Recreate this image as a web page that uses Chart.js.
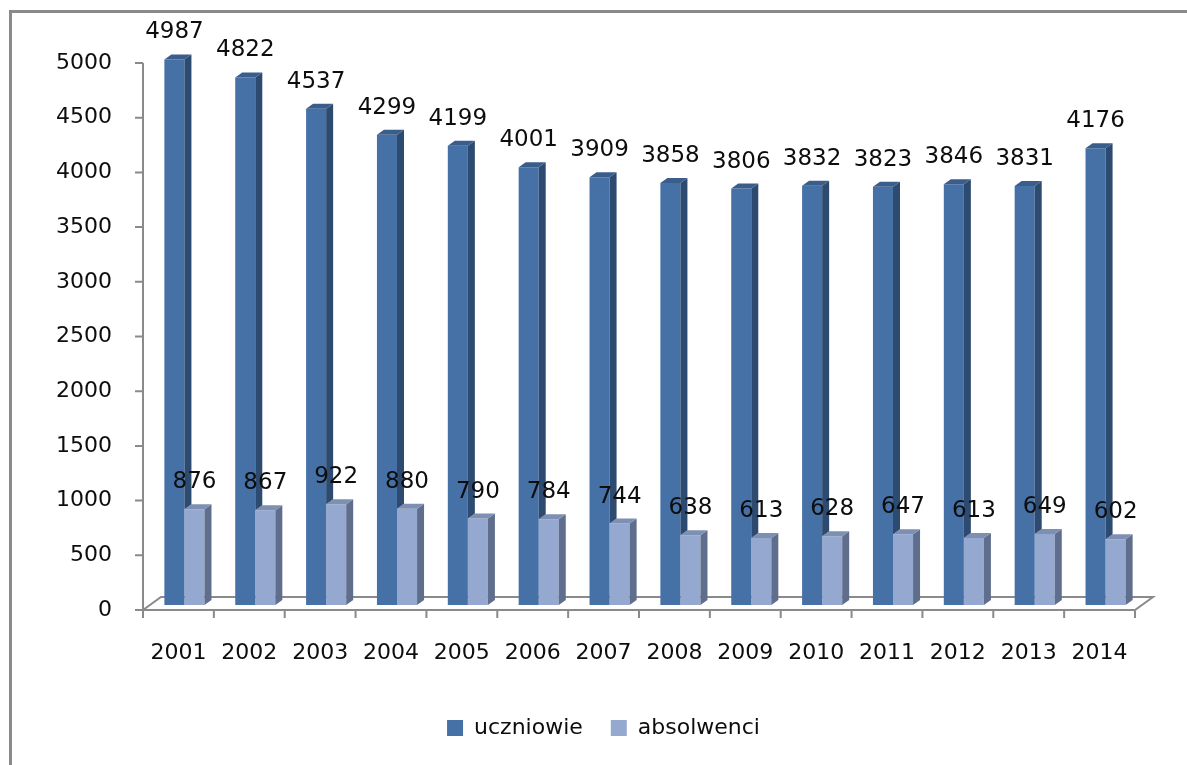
<!DOCTYPE html>
<html>
<head>
<meta charset="utf-8">
<script src="https://cdn.jsdelivr.net/npm/chart.js@4.4.0/dist/chart.umd.min.js"></script>
<style>
  body { margin: 0; background: #fff; overflow: hidden; }
  #frame { position: absolute; left: 9px; top: 10px; width: 1250px; height: 800px; border: 3px solid #8a8a8a; }
  #wrap { position: absolute; left: 0; top: 0; width: 1187px; height: 765px; }
</style>
</head>
<body>
<div id="frame"></div>
<div id="wrap"><canvas id="chart" width="1187" height="765"></canvas></div>
<script>
// data
const years = ["2001", "2002", "2003", "2004", "2005", "2006", "2007", "2008", "2009", "2010", "2011", "2012", "2013", "2014"];
const uczniowie = [4987, 4822, 4537, 4299, 4199, 4001, 3909, 3858, 3806, 3832, 3823, 3846, 3831, 4176];
const absolwenci = [876, 867, 922, 880, 790, 784, 744, 638, 613, 628, 647, 613, 649, 602];

const FONT = "DejaVu Sans";
const DX = 7, DY = 5;          // depth of each bar
const AXIS = "#8a8a8a";
const TEXT = "#0d0d0d";

const shade = [
  { side: "#2d4a70", top: "#3b5d8c" },
  { side: "#5f6e8c", top: "#7d8fb2" }
];

// 3d look: side + top faces, floor, axes and value labels
const bars3d = {
  id: "bars3d",
  afterDatasetDraw(chart, args) {
    const ctx = chart.ctx;
    const s = shade[args.index];
    // uczniowie is drawn last, so its side must stop at the absolwenci top
    const other = args.index === 0 ? chart.getDatasetMeta(1).data : null;
    ctx.save();
    args.meta.data.forEach((bar, j) => {
      const p = bar.getProps(["x", "y", "base", "width"], true);
      const l = p.x - p.width / 2, r = p.x + p.width / 2;
      const low = other ? Math.min(p.base, other[j].y) : p.base;
      ctx.fillStyle = s.side;
      ctx.beginPath();
      ctx.moveTo(r, p.y);
      ctx.lineTo(r + DX, p.y - DY);
      ctx.lineTo(r + DX, low - DY);
      ctx.lineTo(r, low);
      ctx.closePath();
      ctx.fill();
      ctx.fillStyle = s.top;
      ctx.beginPath();
      ctx.moveTo(l, p.y);
      ctx.lineTo(l + DX, p.y - DY);
      ctx.lineTo(r + DX, p.y - DY);
      ctx.lineTo(r, p.y);
      ctx.closePath();
      ctx.fill();
    });
    ctx.restore();
  },
  beforeDatasetsDraw(chart) {
    const ctx = chart.ctx;
    const xs = chart.scales.x, ys = chart.scales.y;
    const left = xs.left - 6, right = xs.right - 6;
    const front = ys.getPixelForValue(0) + 5;
    const back = front - 13;
    ctx.save();
    ctx.strokeStyle = AXIS;
    ctx.lineWidth = 2;
    ctx.beginPath();
    // floor
    ctx.moveTo(left, front);
    ctx.lineTo(left + 18, back);
    ctx.lineTo(right + 18, back);
    ctx.lineTo(right, front);
    ctx.lineTo(left, front);
    // y axis
    ctx.moveTo(left, front);
    ctx.lineTo(left, ys.getPixelForValue(5000) + 5);
    ys.ticks.forEach(t => {
      const y = ys.getPixelForValue(t.value) + 5;
      ctx.moveTo(left - 8, y);
      ctx.lineTo(left, y);
    });
    // x ticks
    const step = (xs.right - xs.left) / years.length;
    for (let i = 0; i <= years.length; i++) {
      const x = left + i * step;
      ctx.moveTo(x, front);
      ctx.lineTo(x, front + 8);
    }
    ctx.stroke();
    // y tick labels
    ctx.font = "22px " + FONT;
    ctx.fillStyle = TEXT;
    ctx.textAlign = "right";
    ctx.textBaseline = "middle";
    ys.ticks.forEach(t => {
      ctx.fillText(String(t.value), left - 31, ys.getPixelForValue(t.value) + 5);
    });
    ctx.restore();
  },
  afterDatasetsDraw(chart) {
    const ctx = chart.ctx;
    ctx.save();
    ctx.font = "23px " + FONT;
    ctx.fillStyle = TEXT;
    ctx.textAlign = "center";
    ctx.textBaseline = "middle";
    chart.data.datasets.forEach((ds, i) => {
      chart.getDatasetMeta(i).data.forEach((bar, j) => {
        ctx.fillText(ds.data[j], bar.x, bar.y - 27);
      });
    });
    ctx.restore();
  }
};

new Chart(document.getElementById("chart"), {
  type: "bar",
  data: {
    labels: years,
    datasets: [
      { label: "uczniowie", data: uczniowie, backgroundColor: "#4671a7",
        categoryPercentage: 0.566, barPercentage: 1.0 },
      { label: "absolwenci", data: absolwenci, backgroundColor: "#95a9d0",
        categoryPercentage: 0.566, barPercentage: 1.0 }
    ]
  },
  options: {
    responsive: false,
    animation: false,
    layout: { padding: { left: 66, right: 46, top: 58, bottom: 16 } },
    plugins: {
      tooltip: { enabled: false },
      legend: {
        position: "bottom",
        labels: {
          font: { family: FONT, size: 22 },
          color: TEXT,
          boxWidth: 16,
          boxHeight: 16,
          padding: 28
        }
      }
    },
    scales: {
      x: {
        grid: { display: false, drawTicks: false },
        border: { display: false },
        ticks: { font: { family: FONT, size: 22 }, color: TEXT, padding: 35,
          labelOffset: -6, maxRotation: 0, autoSkip: false },
        afterFit(scale) { scale.height = 84; }
      },
      y: {
        min: 0,
        max: 5000,
        grid: { display: false, drawTicks: false },
        border: { display: false },
        ticks: { stepSize: 500, display: false },
        afterFit(scale) { scale.width = 83; }
      }
    }
  },
  plugins: [bars3d]
});
</script>
</body>
</html>
